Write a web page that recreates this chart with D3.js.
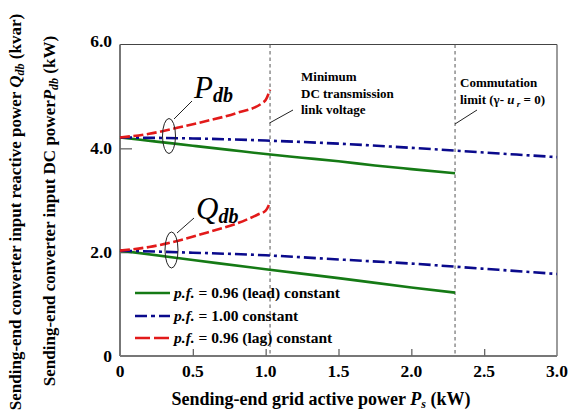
<!DOCTYPE html>
<html><head><meta charset="utf-8">
<script src="https://cdn.jsdelivr.net/npm/d3@7"></script>
<style>body{margin:0;background:#fff}svg{display:block}</style>
</head><body>
<svg id="c" width="569" height="419"></svg>
<script>
// ---- data ----
const xTicks = [0.5, 1.0, 1.5, 2.0, 2.5];
const xTickLabels = ["0", "0.5", "1.0", "1.5", "2.0", "2.5", "3.0"];
const xTickLabelValues = [0, 0.5, 1.0, 1.5, 2.0, 2.5, 3.0];
const yTickLabels = ["0", "2.0", "4.0", "6.0"];
const yTickLabelValues = [0, 2, 4, 6];
const yTicks = [2, 4];
const limitLines = [1.03, 2.3];

const pLeadX = [0, 0.25, 0.5, 0.75, 1.0, 1.25, 1.5, 1.75, 2.0, 2.3];
const pLeadY = [4.21, 4.13, 4.05, 3.97, 3.89, 3.82, 3.75, 3.67, 3.60, 3.52];
const pUnityX = [0, 0.5, 1.0, 1.5, 2.0, 2.5, 3.0];
const pUnityY = [4.21, 4.19, 4.15, 4.09, 4.01, 3.92, 3.83];
const pLagX = [0, 0.2, 0.4, 0.6, 0.8, 0.98, 1.0, 1.03];
const pLagY = [4.21, 4.28, 4.40, 4.53, 4.68, 4.88, 4.93, 5.13];

const qLeadX = [0, 0.5, 1.0, 1.5, 2.0, 2.3];
const qLeadY = [2.03, 1.85, 1.67, 1.50, 1.32, 1.22];
const qUnityX = [0, 0.5, 1.0, 1.5, 2.0, 2.5, 3.0];
const qUnityY = [2.03, 1.99, 1.94, 1.86, 1.78, 1.68, 1.58];
const qLagX = [0, 0.2, 0.4, 0.6, 0.8, 0.95, 1.0, 1.03];
const qLagY = [2.03, 2.10, 2.22, 2.38, 2.55, 2.73, 2.80, 2.96];

const legendLabels = ["= 0.96 (lead) constant", "= 1.00 constant", "= 0.96 (lag) constant"];

// ---- layout ----
const FONT = "Liberation Serif";
const svg = d3.select("#c");
const L = 120, R = 557, T = 44.5, B = 356;
const x = d3.scaleLinear().domain([0, 3]).range([L, R]);
const y = d3.scaleLinear().domain([0, 6]).range([B, T]);

const styles = {
  lead: {stroke: "#157a15", dash: null, w: 2.6},
  unity: {stroke: "#0a0a8c", dash: "12,4,3,4", w: 2.6},
  lag: {stroke: "#e21a1a", dash: "10,3.5", w: 2.6}
};

// frame
svg.append("line").attr("x1", L).attr("x2", R).attr("y1", T).attr("y2", T).attr("stroke", "#444").attr("stroke-width", 1);
svg.append("line").attr("x1", R).attr("x2", R).attr("y1", T).attr("y2", B).attr("stroke", "#666").attr("stroke-width", 1.3);

// vertical limit lines
svg.selectAll(".lim").data(limitLines).join("line")
  .attr("x1", d => x(d)).attr("x2", d => x(d)).attr("y1", T).attr("y2", B)
  .attr("stroke", "#555").attr("stroke-width", 1).attr("stroke-dasharray", "3.5,3");

// axes
const xAxis = d3.axisBottom(x).tickValues(xTicks).tickSize(-7).tickFormat("");
const gx = svg.append("g").attr("transform", `translate(0,${B})`).call(xAxis);
const yAxis = d3.axisLeft(y).tickValues(yTicks).tickSize(-12).tickFormat("");
const gy = svg.append("g").attr("transform", `translate(${L},0)`).call(yAxis);
[gx, gy].forEach(g => {
  g.select(".domain").attr("stroke", "#777").attr("stroke-width", 2);
  g.selectAll(".tick line").attr("stroke", "#666").attr("stroke-width", 1.3);
});
gy.select(".domain").attr("d", `M0,${T}V${B}`);
gx.select(".domain").attr("d", `M${L},0H${R}`);

// tick labels
svg.selectAll(".xl").data(xTickLabelValues).join("text")
  .attr("x", d => x(d)).attr("y", 377).attr("text-anchor", "middle")
  .attr("font-size", 17.5).attr("font-weight", "bold").text((d, i) => xTickLabels[i]);
svg.selectAll(".yl").data(yTickLabelValues).join("text")
  .attr("x", 112).attr("y", d => d === 6 ? y(d) + 2 : y(d) + 6).attr("text-anchor", "end")
  .attr("font-size", 17.5).attr("font-weight", "bold").text((d, i) => yTickLabels[i]);

// curves
const line = d3.line().x(d => x(d[0])).y(d => y(d[1])).curve(d3.curveMonotoneX);
function draw(xs, ys, st) {
  svg.append("path").datum(xs.map((v, i) => [v, ys[i]]))
    .attr("d", line).attr("fill", "none").attr("stroke", st.stroke)
    .attr("stroke-width", st.w).attr("stroke-dasharray", st.dash);
}
draw(pLeadX, pLeadY, styles.lead);
draw(pUnityX, pUnityY, styles.unity);
draw(pLagX, pLagY, styles.lag);
draw(qLeadX, qLeadY, styles.lead);
draw(qUnityX, qUnityY, styles.unity);
draw(qLagX, qLagY, styles.lag);

// brackets & labels
function bracket(cx, cy, ry, lx1, ly1, lx2, ly2) {
  svg.append("ellipse").attr("cx", cx).attr("cy", cy).attr("rx", 6.5).attr("ry", ry)
    .attr("fill", "none").attr("stroke", "#222").attr("stroke-width", 1);
  svg.append("line").attr("x1", lx1).attr("y1", ly1).attr("x2", lx2).attr("y2", ly2)
    .attr("stroke", "#222").attr("stroke-width", 1);
}
bracket(169, 136, 17.5, 174, 119, 192, 101);
bracket(171.5, 250, 18, 177, 233, 194, 218);

function bigLabel(tx, ty, main) {
  const t = svg.append("text").attr("x", tx).attr("y", ty).attr("font-style", "italic").attr("font-size", 31);
  t.append("tspan").text(main);
  t.append("tspan").attr("font-size", 20).attr("font-weight", "bold").attr("dy", 4).text("db");
}
bigLabel(194, 98, "P");
bigLabel(196, 219, "Q");

// annotations
const ann1 = ["Minimum", "DC transmission", "link voltage"];
svg.selectAll(".a1").data(ann1).join("text")
  .attr("x", 301).attr("y", (d, i) => 81 + i * 16.5).attr("font-size", 13).attr("font-weight", "bold").text(d => d);
svg.append("line").attr("x1", 269.5).attr("y1", 123).attr("x2", 293).attr("y2", 110).attr("stroke", "#222").attr("stroke-width", 1);

svg.append("text").attr("x", 460).attr("y", 87).attr("font-size", 13).attr("font-weight", "bold").text("Commutation");
const t2 = svg.append("text").attr("x", 460).attr("y", 104).attr("font-size", 13).attr("font-weight", "bold");
t2.append("tspan").text("limit (\u03b3- ");
t2.append("tspan").attr("font-style", "italic").text("u");
t2.append("tspan").attr("font-style", "italic").attr("font-size", 9).attr("dy", 3).text(" r");
t2.append("tspan").attr("dy", -3).text(" = 0)");
svg.append("line").attr("x1", 455).attr("y1", 124).attr("x2", 477).attr("y2", 110).attr("stroke", "#222").attr("stroke-width", 1);

// legend
const legKeys = ["lead", "unity", "lag"];
const legY = [293, 316, 338];
legKeys.forEach((k, i) => {
  const st = styles[k];
  svg.append("line").attr("x1", 135).attr("x2", 170).attr("y1", legY[i]).attr("y2", legY[i])
    .attr("stroke", st.stroke).attr("stroke-width", st.w).attr("stroke-dasharray", k === "lag" ? "15,4" : (k === "unity" ? "12,4,4,4" : null));
  const t = svg.append("text").attr("x", 174).attr("y", legY[i] + 5).attr("font-size", 15.5).attr("font-weight", "bold");
  t.append("tspan").attr("font-style", "italic").text("p.f.");
  t.append("tspan").text(" " + legendLabels[i]);
});

// axis titles
const xt = svg.append("text").attr("x", 321).attr("y", 405).attr("text-anchor", "middle").attr("font-size", 18).attr("font-weight", "bold");
xt.append("tspan").text("Sending-end grid active power  ");
xt.append("tspan").attr("font-style", "italic").text("P");
xt.append("tspan").attr("font-style", "italic").attr("font-size", 12).attr("dy", 3).text("s");
xt.append("tspan").attr("dy", -3).text(" (kW)");

function yTitle(cx, cy, pre, sym, post) {
  const t = svg.append("text").attr("transform", `translate(${cx},${cy}) rotate(-90)`).attr("text-anchor", "middle")
    .attr("font-size", 17).attr("font-weight", "bold");
  t.append("tspan").text(pre);
  t.append("tspan").attr("font-style", "italic").text(sym);
  t.append("tspan").attr("font-style", "italic").attr("font-size", 12).attr("dy", 3).text("db");
  t.append("tspan").attr("dy", -3).text(post);
}
yTitle(21, 212, "Sending-end converter input reactive power ", "Q", " (kvar)");
yTitle(55, 211, "Sending-end converter input DC power", "P", " (kW)");

svg.selectAll("text").attr("font-family", FONT);
</script>
</body></html>
